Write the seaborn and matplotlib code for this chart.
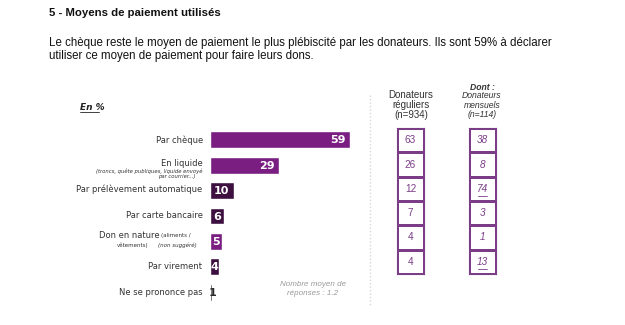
import matplotlib
matplotlib.use("Agg")
import matplotlib.pyplot as plt
from matplotlib.lines import Line2D
import seaborn as sns
import numpy as np
import pandas as pd

# ---- data ----
categories = ["Par chèque", "En liquide", "Par prélèvement automatique",
              "Par carte bancaire", "Don en nature", "Par virement",
              "Ne se prononce pas"]
values = [59, 29, 10, 6, 5, 4, 1]
reguliers = [63, 26, 12, 7, 4, 4]
mensuels = [38, 8, 74, 3, 1, 13]
mensuels_underlined = [False, False, True, False, False, True]

title = "5 - Moyens de paiement utilisés"
para = ["Le chèque reste le moyen de paiement le plus plébiscité par les donateurs. Ils sont 59% à déclarer",
        "utiliser ce moyen de paiement pour faire leurs dons."]
note = "Nombre moyen de\nréponses : 1.2"

# ---- style ----
PURPLE = "#7A1E82"
DARK = "#3E1040"
BLACKISH = "#2a2a2a"
palette = [PURPLE, PURPLE, DARK, DARK, PURPLE, DARK, BLACKISH]
TXT = "#333333"
TAB = "#7A3D86"

sns.set_theme(style="white")
plt.rcParams["font.family"] = ["DejaVu Sans"]

W, H = 625, 325
fig = plt.figure(figsize=(W / 100, H / 100), dpi=100)
fig.patch.set_facecolor("white")

def px(x, y):
    return x / W, 1 - y / H

# ---- bar chart ----
top, bot = 127.3, 304.7
l, r = 210, 350
ax = fig.add_axes([l / W, 1 - bot / H, (r - l) / W, (bot - top) / H])
df = pd.DataFrame({"cat": categories, "val": values})
sns.barplot(data=df, x="val", y="cat", hue="cat", palette=palette,
            legend=False, width=0.67, orient="h", saturation=1, ax=ax)
ax.set_xlim(0, 59)
ax.set_ylim(6.5, -0.5)
ax.axis("off")

for i, v in enumerate(values):
    if v >= 20:
        ax.annotate(str(v), xy=(v, i), xytext=(-4, -0.5), textcoords="offset pixels",
                    ha="right", va="center", color="white", fontsize=8, fontweight="bold")
    elif v > 1:
        ax.annotate(str(v), xy=(v / 2, i), xytext=(0, -0.5), textcoords="offset pixels",
                    ha="center", va="center", color="white", fontsize=8, fontweight="bold")
    else:
        ax.annotate(str(v), xy=(v / 2, i), xytext=(1, -0.5), textcoords="offset pixels",
                    ha="center", va="center", color=BLACKISH, fontsize=8, fontweight="bold")

def lab(i, text, xoff, yoff, size=6.0, style="normal", color=TXT):
    ax.annotate(text, xy=(0, i), xytext=(xoff, yoff), textcoords="offset pixels",
                ha="right", va="center", fontsize=size, style=style, color=color,
                annotation_clip=False)

lab(0, "Par chèque", -7, 0)
lab(1, "En liquide", -7, 2)
lab(1, "(troncs, quête publiques, liquide envoyé", -7, -5.5, size=3.8, style="italic")
lab(1, "par courrier...)", -15, -11.5, size=3.8, style="italic")
lab(2, "Par prélèvement automatique", -8, 1)
lab(3, "Par carte bancaire", -7, 0)
lab(4, "Don en nature", -50, 5.5)
lab(4, "(aliments /", -19, 5.5, size=4.0)
lab(4, "vêtements)", -62, -3.5, size=4.0)
lab(4, "(non suggéré)", -13, -3.5, size=4.0, style="italic")
lab(5, "Par virement", -8, 0)
lab(6, "Ne se prononce pas", -7, 0)

# ---- header texts ----
fig.text(*px(49, 13), title, fontsize=8.2, fontweight="bold", family="Liberation Sans",
         color="#111111", va="center", ha="left")
fig.text(*px(49, 43), para[0], fontsize=8.3, family="Liberation Sans",
         color="#111111", va="center", ha="left")
fig.text(*px(49, 56), para[1], fontsize=8.3, family="Liberation Sans",
         color="#111111", va="center", ha="left")

fig.text(*px(80, 107), "En %", fontsize=6.5, fontweight="bold", style="italic",
         color="#222222", va="center", ha="left")
fig.add_artist(Line2D([80 / W, 99 / W], [1 - 112 / H, 1 - 112 / H], color="#222222", lw=0.6))

fig.text(*px(313, 289), note, fontsize=5.8, style="italic", family="Liberation Sans",
         color="#9a9a9a", va="center", ha="center", linespacing=1.25)

# dotted separator
fig.add_artist(Line2D([370 / W, 370 / W], [1 - 95 / H, 1 - 305 / H], color="#d8d8d8",
                      lw=1.0, ls=(0, (1, 1.5))))

# ---- tables ----
fig.text(*px(411, 105), "Donateurs\nréguliers\n(n=934)", fontsize=7.0, family="Liberation Sans",
         color=TXT, va="center", ha="center", linespacing=1.05)
fig.text(*px(482, 88), "Dont :", fontsize=6.2, family="Liberation Sans", fontweight="bold",
         style="italic", color=TXT, va="center", ha="center")
fig.text(*px(482, 105), "Donateurs\nmensuels\n(n=114)", fontsize=6.2, family="Liberation Sans",
         style="italic", color=TXT, va="center", ha="center", linespacing=1.05)

ttop, tbot = 128, 274

def table(x0, x1, vals, italic, underline):
    tax = fig.add_axes([x0 / W, 1 - tbot / H, (x1 - x0) / W, (tbot - ttop) / H])
    arr = np.array(vals, dtype=float).reshape(-1, 1)
    sns.heatmap(arr, ax=tax, cmap=sns.color_palette(["white"]), cbar=False,
                annot=True, fmt=".0f", linewidths=0.8, linecolor=TAB,
                annot_kws={"color": TAB, "fontsize": 7.2, "family": "Liberation Sans",
                           "style": "italic" if italic else "normal"},
                xticklabels=False, yticklabels=False)
    for s in tax.spines.values():
        s.set_visible(True)
        s.set_color(TAB)
        s.set_linewidth(0.8)
    for i, u in enumerate(underline):
        if u:
            tax.plot([0.34, 0.66], [i + 0.78, i + 0.78], color=TAB, lw=0.6)
    return tax

table(397, 424, reguliers, False, [False] * len(reguliers))
table(469, 496, mensuels, True, mensuels_underlined)

fig.savefig("out.png", dpi=100, facecolor="white")
